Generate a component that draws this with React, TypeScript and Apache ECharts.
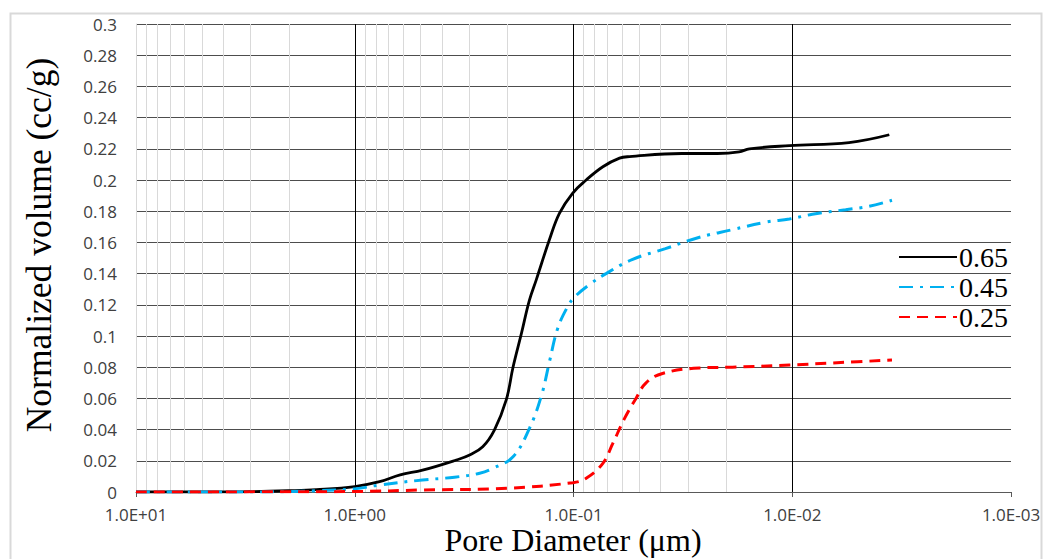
import React, { useEffect, useRef } from "react";
import * as echarts from "echarts";

// Pore diameter (µm) and normalized volume (cc/g) per w/c ratio
const diam65 = [10, 5, 3, 2, 1.5, 1.0, 0.77, 0.62, 0.49, 0.3435, 0.2985, 0.26, 0.23, 0.203, 0.189, 0.173, 0.159, 0.148, 0.129, 0.116, 0.101, 0.0875, 0.0734, 0.0616, 0.0555, 0.032, 0.022, 0.0175, 0.0157, 0.0103, 0.0055, 0.0036];
const vol65 = [0, 0, 0.0002, 0.0008, 0.0015, 0.0035, 0.0066, 0.011, 0.014, 0.0205, 0.0237, 0.029, 0.0397, 0.059, 0.08, 0.1017, 0.123, 0.136, 0.1615, 0.1786, 0.1915, 0.2, 0.2085, 0.214, 0.215, 0.217, 0.217, 0.218, 0.22, 0.222, 0.224, 0.229];

const diam45 = [10, 3, 2, 1.5, 1.0, 0.77, 0.49, 0.35, 0.2685, 0.2335, 0.189, 0.159, 0.14, 0.1288, 0.118, 0.1062, 0.0988, 0.0845, 0.071, 0.054, 0.038, 0.027, 0.019, 0.0132, 0.0103, 0.0081, 0.0057, 0.0045, 0.0035];
const vol45 = [0, 0, 0.0003, 0.0008, 0.002, 0.0045, 0.0077, 0.0095, 0.012, 0.0152, 0.0226, 0.0408, 0.062, 0.0835, 0.105, 0.119, 0.125, 0.133, 0.14, 0.149, 0.156, 0.163, 0.168, 0.173, 0.175, 0.178, 0.181, 0.183, 0.187];

const diam25 = [10, 1.0, 0.49, 0.2, 0.1007, 0.0875, 0.0734, 0.0662, 0.0585, 0.0518, 0.0466, 0.0392, 0.0266, 0.0188, 0.0103, 0.006, 0.0035];
const vol25 = [0, 0.0003, 0.0013, 0.0024, 0.006, 0.0088, 0.0184, 0.031, 0.047, 0.06, 0.07, 0.076, 0.0795, 0.08, 0.0814, 0.083, 0.0846];

const seriesNames = ["0.65", "0.45", "0.25"];
const innerDecades = [1, 0.1, 0.01];
const minorDecades = [1, 0.1, 0.01, 0.001];
const minorMultipliers = [2, 3, 4, 5, 6, 7, 8, 9];
const xTitle = "Pore Diameter (\u03bcm)";
const yTitle = "Normalized volume (cc/g)";

const zip = (xs: number[], ys: number[]) => xs.map((x, i) => [x, ys[i]]);

function fmtExp(v: number) {
  const e = Math.round(Math.log10(v));
  const sign = e < 0 ? "-" : "+";
  const a = Math.abs(e);
  return "1.0E" + sign + (a < 10 ? "0" + a : String(a));
}

export default function App() {
  const ref = useRef<HTMLDivElement>(null);
  useEffect(() => {
    if (!ref.current) return;
    const chart = echarts.init(ref.current, undefined, { renderer: "svg" });
    const minorVals: number[] = [];
    minorDecades.forEach((d) => minorMultipliers.forEach((m) => minorVals.push(+(d * m).toPrecision(3))));
    const tickFont = { fontFamily: "Open Sans", fontSize: 17, color: "#404040" };
    const gridLineSeries = (name: string, vals: number[], color: string) => ({
      name,
      type: "line",
      data: [],
      silent: true,
      markLine: {
        silent: true,
        symbol: "none",
        label: { show: false },
        lineStyle: { color, width: 1, type: "solid" },
        data: vals.map((v) => ({ xAxis: v })),
      },
      z: 1,
    });
    chart.setOption({
      animation: false,
      backgroundColor: "#fff",
      grid: { left: 136, right: 37, top: 24, bottom: 67, containLabel: false },
      graphic: [
        {
          type: "rect",
          left: 8,
          top: 11,
          shape: { width: 1031, height: 560 },
          style: { fill: "none", stroke: "#d9d9d9", lineWidth: 2 },
          silent: true,
          z: -10,
        },
        {
          type: "text",
          x: 39,
          y: 245,
          rotation: Math.PI / 2,
          style: {
            text: yTitle,
            fontFamily: "Liberation Serif",
            fontSize: 35.5,
            fill: "#000",
            align: "center",
            verticalAlign: "middle",
          },
        },
        {
          type: "text",
          x: 573,
          y: 540,
          style: {
            text: xTitle,
            fontFamily: "Liberation Serif",
            fontSize: 32,
            lineHeight: 20,
            fill: "#000",
            align: "center",
            verticalAlign: "middle",
          },
        },
      ],
      legend: {
        orient: "vertical",
        left: 893,
        top: 238,
        itemWidth: 58,
        itemHeight: 14,
        itemGap: 2,
        data: seriesNames,
        itemStyle: { opacity: 0 },
        textStyle: { fontFamily: "Liberation Serif", fontSize: 28, color: "#000", padding: [0, 0, 0, -3] },
      },
      xAxis: {
        type: "log",
        logBase: 10,
        min: 0.001,
        max: 10,
        inverse: true,
        splitNumber: 4,
        axisLine: { show: true, lineStyle: { color: "#595959", width: 1 } },
        axisTick: { show: true, length: 5, lineStyle: { color: "#595959" } },
        axisLabel: { ...tickFont, margin: 14, formatter: (v: number) => fmtExp(v) },
        splitLine: { show: false },
      },
      yAxis: {
        type: "value",
        min: 0,
        max: 0.3,
        interval: 0.02,
        axisLine: { show: true, lineStyle: { color: "#d9d9d9", width: 1 } },
        axisTick: { show: false },
        axisLabel: { ...tickFont, margin: 19, formatter: (v: number) => String(+v.toFixed(2)) },
        splitLine: { show: true, showMinLine: false, lineStyle: { color: "#4d4d4d", width: 1.2 } },
      },
      series: [
        gridLineSeries("grid-minor", minorVals, "#d9d9d9"),
        gridLineSeries("grid-major", innerDecades, "#000"),
        gridLineSeries("grid-edge", [0.001], "#8c8c8c"),
        {
          name: seriesNames[0],
          type: "line",
          data: zip(diam65, vol65),
          showSymbol: false,
          symbol: "none",
          smooth: 0.4,
          lineStyle: { color: "#000", width: 2.8, type: "solid" },
          itemStyle: { color: "#000" },
          z: 5,
        },
        {
          name: seriesNames[1],
          type: "line",
          data: zip(diam45, vol45),
          showSymbol: false,
          symbol: "none",
          smooth: 0.4,
          lineStyle: { color: "#00b0f0", width: 3, type: [14, 7, 3, 7] },
          itemStyle: { color: "#00b0f0" },
          z: 5,
        },
        {
          name: seriesNames[2],
          type: "line",
          data: zip(diam25, vol25),
          showSymbol: false,
          symbol: "none",
          smooth: 0.4,
          lineStyle: { color: "#ff0000", width: 3, type: [11, 7] },
          itemStyle: { color: "#ff0000" },
          z: 5,
        },
      ],
    });
    return () => chart.dispose();
  }, []);
  return (
    <div
      ref={ref}
      style={{ position: "fixed", left: 0, top: 0, width: 1048, height: 559 }}
    />
  );
}
